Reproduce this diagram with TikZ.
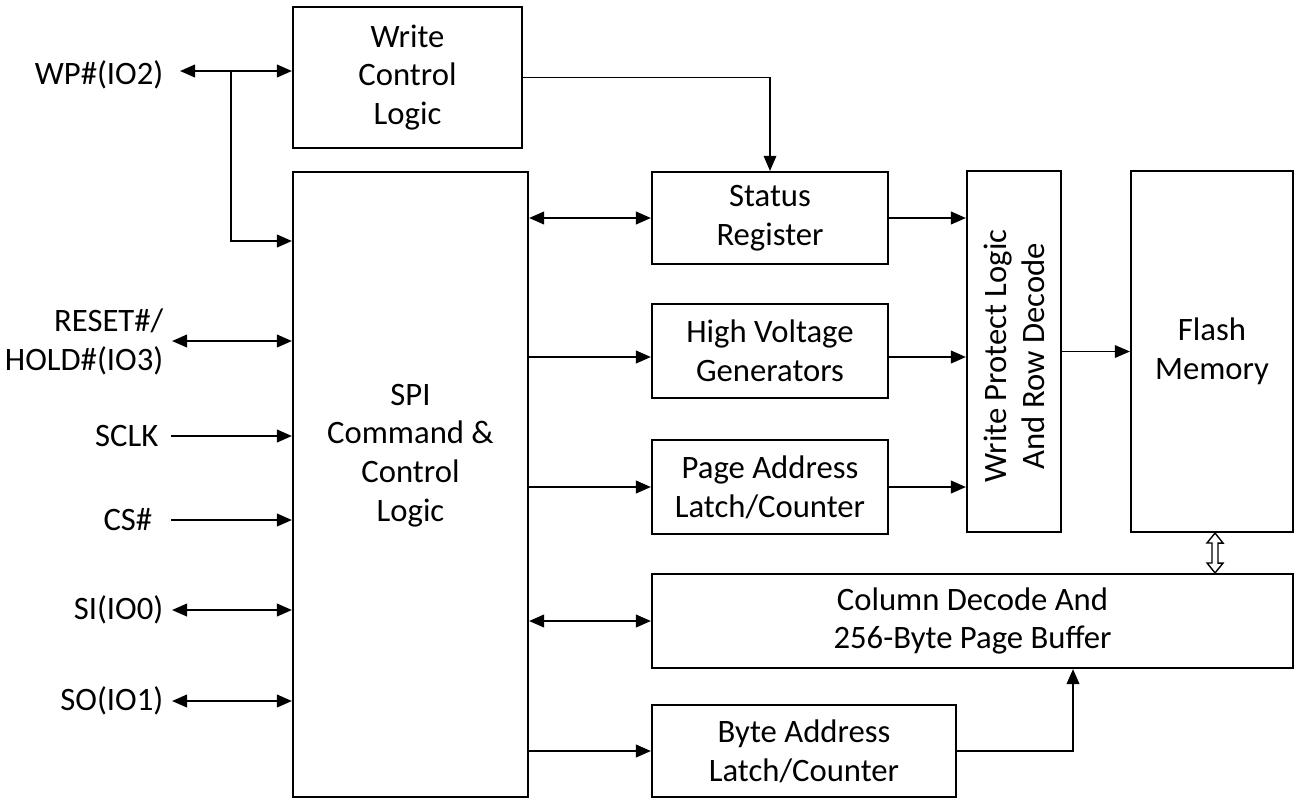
\documentclass[tikz,border=0pt]{standalone}
\usepackage{fontspec}
\setmainfont{Carlito}
\usetikzlibrary{arrows.meta,calc}
\begin{document}
\begin{tikzpicture}[
  box/.style={draw, line width=0.6pt, align=center, inner sep=0pt},
  tip/.tip={Triangle[length=4.3pt,width=3.6pt]},
  conn/.style={line width=0.6pt, -tip},
  bconn/.style={line width=0.6pt, tip-tip},
  thinconn/.style={line width=0.35pt, -tip},
  pin/.style={anchor=east, align=right, inner sep=0pt},
  font=\fontsize{9.3}{11}\selectfont]
\useasboundingbox (0,0) rectangle (12.97,-7.99);
% blocks
\node[box, minimum width=2.29cm, minimum height=1.41cm] (wcl) at (4.075,-0.775) {Write\\Control\\Logic};
\node[box, minimum width=2.35cm, minimum height=6.25cm,
      label={[align=center, yshift=0.29cm]center:SPI\\Command \&\\Control\\Logic}] (spi) at (4.105,-4.845) {};
\node[box, minimum width=2.36cm, minimum height=0.92cm] (st) at (7.70,-2.18) {Status\\Register};
\node[box, minimum width=2.36cm, minimum height=0.94cm] (hv) at (7.70,-3.51) {High Voltage\\Generators};
\node[box, minimum width=2.36cm, minimum height=0.94cm] (pa) at (7.70,-4.87) {Page Address\\Latch/Counter};
\node[box, minimum width=6.41cm, minimum height=0.94cm] (col) at (9.725,-6.21) {Column Decode And\\256-Byte Page Buffer};
\node[box, minimum width=3.04cm, minimum height=0.92cm] (ba) at (8.04,-7.51) {Byte Address\\Latch/Counter};
\node[box, minimum width=0.94cm, minimum height=3.61cm] (wp) at (10.14,-3.515) {};
\node[align=center, rotate=90, inner sep=0pt] (wptext) at (10.145,-3.56) {Write Protect Logic\\And Row Decode};
\node[box, minimum width=1.62cm, minimum height=3.61cm] (fm) at (12.12,-3.515) {Flash\\Memory};
% pins
\node[pin] (pwp) at (1.64,-0.75) {WP\#(IO2)};
\node[pin] (prst) at (1.64,-3.42) {RESET\#/\\HOLD\#(IO3)};
\node[pin] (pclk) at (1.59,-4.36) {SCLK};
\node[pin] (pcs) at (1.53,-5.20) {CS\#};
\node[pin] (psi) at (1.64,-6.10) {SI(IO0)};
\node[pin] (pso) at (1.64,-7.01) {SO(IO1)};
\coordinate (wpS) at (1.80,-0.71);
\coordinate (j) at (2.31,-0.71);
\coordinate (rstS) at (1.72,-3.41);
\coordinate (clkS) at (1.71,-4.36);
\coordinate (csS) at (1.71,-5.20);
\coordinate (siS) at (1.72,-6.10);
\coordinate (soS) at (1.72,-7.01);
% pin connectors
\draw[bconn] (wpS) -- (wpS -| wcl.west);
\draw[conn] (j) |- (spi.west |- 0,-2.41);
\draw[bconn] (rstS) -- (rstS -| spi.west);
\draw[conn] (clkS) -- (clkS -| spi.west);
\draw[conn] (csS) -- (csS -| spi.west);
\draw[bconn] (siS) -- (siS -| spi.west);
\draw[bconn] (soS) -- (soS -| spi.west);
% internal connectors
\draw[thinconn] (wcl.east) -| (st.north);
\draw[bconn] (st.west -| spi.east) -- (st.west);
\draw[conn] (spi.east |- 0,-3.57) -- (hv.west |- 0,-3.57);
\draw[conn] (pa.west -| spi.east) -- (pa.west);
\draw[bconn] (col.west -| spi.east) -- (col.west);
\draw[conn] (ba.west -| spi.east) -- (ba.west);
\draw[conn] (st.east) -- (st.east -| wp.west);
\draw[conn] (hv.east |- 0,-3.57) -- (wp.west |- 0,-3.57);
\draw[conn] (pa.east) -- (pa.east -| wp.west);
\draw[thinconn] (wp.east) -- (fm.west);
\draw[conn] (ba.east) -| (col.south -| 10.73,0);
% hollow double arrow between flash memory and column decode
\coordinate (dt) at (fm.south -| 12.15,0);
\draw[line width=0.4pt] (dt) -- ++(0.08,-0.10) -- ++(-0.05,0) -- ++(0,-0.20) -- ++(0.05,0)
  -- (col.north -| 12.15,0) -- ++(-0.08,0.10) -- ++(0.05,0) -- ++(0,0.20) -- ++(-0.05,0) -- cycle;
\end{tikzpicture}
\end{document}
